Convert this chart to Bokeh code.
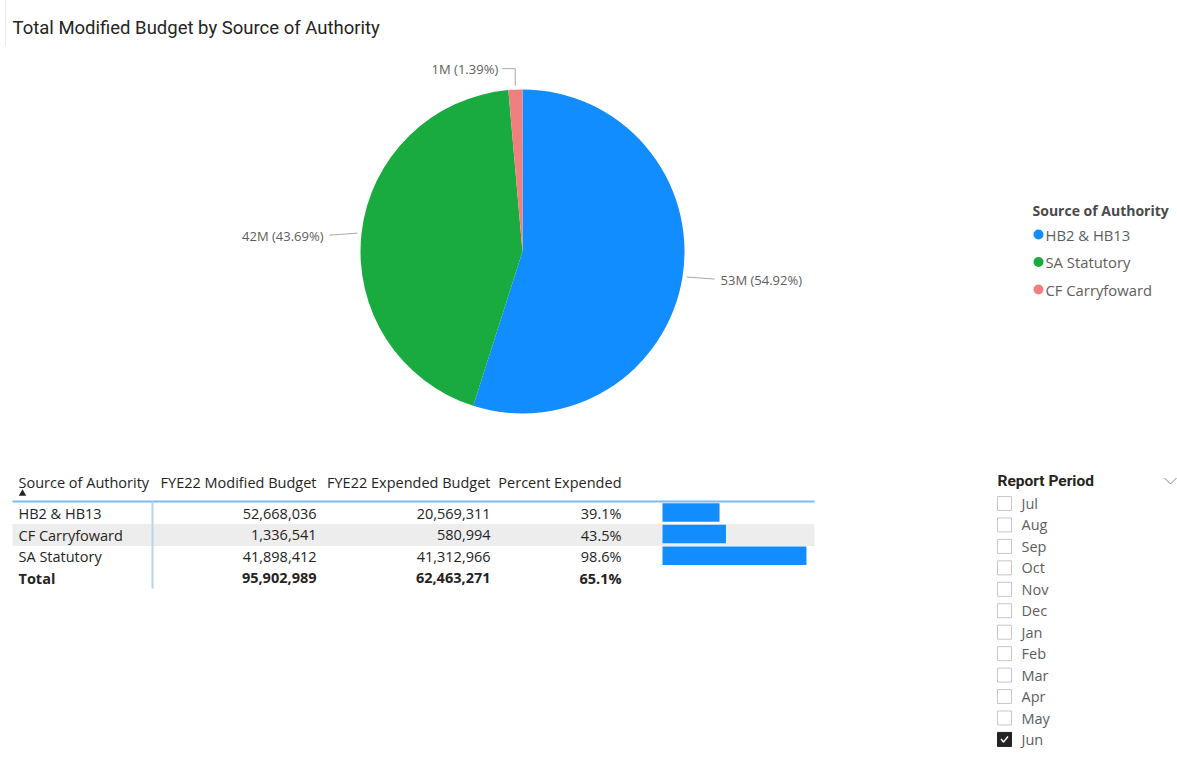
import numpy as np
from bokeh.plotting import figure
from bokeh.models import Range1d, ColumnDataSource
from bokeh.core.properties import value
from bokeh.embed import file_html
from bokeh.resources import INLINE

# ---------------- data ----------------
chart_title = "Total Modified Budget by Source of Authority"
legend_title = "Source of Authority"
pie_categories = ["HB2 & HB13", "SA Statutory", "CF Carryfoward"]
pie_values = [52668036, 41898412, 1336541]

table_headers = ["Source of Authority", "FYE22 Modified Budget",
                 "FYE22 Expended Budget", "Percent Expended"]
table_categories = ["HB2 & HB13", "CF Carryfoward", "SA Statutory"]
modified_budget = [52668036, 1336541, 41898412]
expended_budget = [20569311, 580994, 41312966]
total_label = "Total"

slicer_title = "Report Period"
months = ["Jul", "Aug", "Sep", "Oct", "Nov", "Dec",
          "Jan", "Feb", "Mar", "Apr", "May", "Jun"]
selected_months = ["Jun"]

# ---------------- styles ----------------
COLORS = {"HB2 & HB13": "#118DFF", "SA Statutory": "#1AAB40",
          "CF Carryfoward": "#F08080"}
BODY_FONT = "Open Sans"
TITLE_FONT = "Roboto"
DARK = "#252423"
GRAY = "#605E5C"

W, H = 1177, 766


def Y(sy):
    # page pixel row -> data y
    return H - sy


p = figure(width=W, height=H, output_backend="svg", toolbar_location=None,
           x_range=Range1d(0, W), y_range=Range1d(0, H),
           x_axis_location=None, y_axis_location=None, min_border=0,
           outline_line_color=None, tools="")
p.grid.visible = False


def txt(x, y, t, size="14px", color=DARK, font=BODY_FONT, align="left",
        style="normal", baseline="middle"):
    p.text(x=x, y=y, text=t, text_font=value(font),
           text_font_size=value(size), text_color=color,
           text_align=align, text_baseline=baseline, text_font_style=style)


# ---------------- title ----------------
p.line([5, 5], [Y(0), Y(46)], line_color="#EDEBE9", line_width=1)
txt([12], [Y(27)], [chart_title], size="18.5px", font=TITLE_FONT, color=DARK)

# ---------------- pie ----------------
CX, CY, R = 522, 251, 162
vals = np.array(pie_values, dtype=float)
frac = vals / vals.sum()
cum = np.cumsum(frac)
start = np.pi / 2 - 2 * np.pi * (cum - frac)
end = np.pi / 2 - 2 * np.pi * cum
pie_src = ColumnDataSource(dict(cat=pie_categories, start=start, end=end,
                                color=[COLORS[c] for c in pie_categories]))
p.wedge(x=CX, y=Y(CY), radius=R, start_angle="start", end_angle="end",
        direction="clock", fill_color="color", line_color=None, source=pie_src)

# data labels with leader lines
for v, f, s, e in zip(vals, frac, start, end):
    mid = (s + e) / 2
    c, sn = np.cos(mid), np.sin(mid)
    side = 1 if c >= 0 else -1
    lab = f"{v / 1e6:.0f}M ({f * 100:.2f}%)"
    x0, y0 = CX + (R + 4) * c, Y(CY) + (R + 4) * sn
    if abs(c) > 0.3:
        x1, y1 = x0 + side * 28, y0 - 2
        p.line([x0, x1], [y0, y1], line_color="#A8A8A8", line_width=1)
        tx, ty = x1 + side * 6, y1 - 1
    else:
        x1, y1 = x0, y0 + 17
        x2 = x1 + side * 13
        p.line([x0, x1, x2], [y0, y1, y1], line_color="#A8A8A8", line_width=1)
        tx, ty = x2 + side * 4, y1
    txt([tx], [ty], [lab], size="13px", color=GRAY,
        align="left" if side > 0 else "right")

# ---------------- legend ----------------
LGX, LGY, LGSTEP = 1032, 210, 27.5
txt([LGX], [Y(LGY)], [legend_title], size="14px", color="#4A4A4A", style="bold")
leg_y = [Y(LGY + 24 + i * LGSTEP) for i in range(len(pie_categories))]
p.scatter(x=[LGX + 6] * len(pie_categories), y=leg_y, size=10,
          marker="circle", line_color=None,
          fill_color=[COLORS[c] for c in pie_categories])
txt([LGX + 13] * len(pie_categories), leg_y, pie_categories, size="14.8px",
    color=GRAY)

# ---------------- table ----------------
TX0, TX1 = 12, 814
HEAD_Y, ROW0, ROWH = 482, 513, 21.6
col_x = [18, 316, 490, 621]
col_align = ["left", "right", "right", "right"]
TFS = "14.5px"
n = len(table_categories)
row_y = [ROW0 + i * ROWH for i in range(n)]
tot_y = ROW0 + n * ROWH

# banded row
for i in range(n):
    if i % 2 == 1:
        p.quad(left=TX0, right=TX1, top=Y(row_y[i] - 11), bottom=Y(row_y[i] + 11),
               fill_color="#EEEDED", line_color=None)
# header rule and column rule
p.line([TX0, TX1], [Y(501), Y(501)], line_color="#7DBBEA", line_width=2)
p.line([152, 152], [Y(501), Y(588)], line_color="#B5D5F1", line_width=2)

for hx, h, a in zip(col_x, table_headers, col_align):
    txt([hx], [Y(HEAD_Y)], [h], size=TFS, color=DARK, align=a)
p.scatter(x=[22], y=[Y(493)], marker="triangle", size=7.5, fill_color=DARK,
          line_color=None)

pct = [e / m for e, m in zip(expended_budget, modified_budget)]
cols = [table_categories,
        [f"{v:,}" for v in modified_budget],
        [f"{v:,}" for v in expended_budget],
        [f"{v * 100:.1f}%" for v in pct]]
for hx, col, a in zip(col_x, cols, col_align):
    txt([hx] * n, [Y(y) for y in row_y], col, size=TFS, color=DARK, align=a)

tot_m, tot_e = sum(modified_budget), sum(expended_budget)
tot_vals = [total_label, f"{tot_m:,}", f"{tot_e:,}", f"{tot_e / tot_m * 100:.1f}%"]
for hx, t, a in zip(col_x, tot_vals, col_align):
    txt([hx], [Y(tot_y)], [t], size=TFS, color=DARK, align=a, style="bold")

# data bars on their own scale: 0 % at page column 662, 1.46 px per percent
BAR0, PXPP = 662, 1.46
p.extra_x_ranges = {"pct": Range1d((0 - BAR0) / PXPP, (W - BAR0) / PXPP)}
p.hbar(y=[Y(y - 1) for y in row_y], left=0, right=[v * 100 for v in pct],
       height=18.5, fill_color="#118DFF", line_color=None, x_range_name="pct")

# ---------------- slicer ----------------
SX, SY, SSTEP = 997, 480, 21.45
txt([SX], [Y(SY)], [slicer_title], size="15.5px", font=TITLE_FONT,
    color=DARK, style="bold")
p.line([1164, 1170, 1176], [Y(477.5), Y(483.5), Y(477.5)], line_color="#8A8886",
       line_width=1)
m_y = [Y(SY + 23 + i * SSTEP) for i in range(len(months))]
sel = [m in selected_months for m in months]
p.rect(x=[SX + 7] * len(months), y=m_y, width=14, height=14,
       fill_color=[DARK if s else "white" for s in sel],
       line_color=[DARK if s else "#C8C6C4" for s in sel], line_width=1)
for yy, s in zip(m_y, sel):
    if s:
        p.line([SX + 3.5, SX + 6, SX + 10.5], [yy + 0.5, yy - 2.5, yy + 3],
               line_color="white", line_width=1.5)
txt([SX + 24] * len(months), m_y, months, size="14.5px", color=GRAY)

open("out.html", "w").write(file_html(p, INLINE))
